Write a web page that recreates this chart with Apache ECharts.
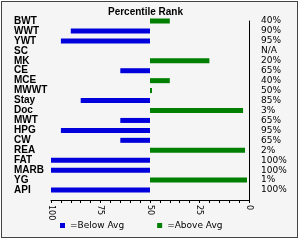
<!DOCTYPE html>
<html><head><meta charset="utf-8">
<script src="https://cdn.jsdelivr.net/npm/echarts@6/dist/echarts.min.js"></script>
<style>
html,body{margin:0;padding:0;background:#fff;}
#c{position:absolute;left:1px;top:1px;width:297px;height:237px;box-sizing:border-box;border:1px solid #444;background:#f5f5f5;}
</style></head>
<body><div id="c"></div>
<script>
const categories = ['BWT','WWT','YWT','SC','MK','CE','MCE','MWWT','Stay','Doc','MWT','HPG','CW','REA','FAT','MARB','YG','API'];
const rankValues = [40, 90, 95, null, 20, 65, 40, 49, 85, 3, 65, 95, 65, 2, 100, 100, 1, 100];
const rankLabels = ['40%','90%','95%','N/A','20%','65%','40%','50%','85%','3%','65%','95%','65%','2%','100%','100%','1%','100%'];
const xTicks = [0, 25, 50, 75, 100];
const avg = 50;

const baseData = rankValues.map(v => v == null ? null : (v > avg ? avg : v));
const belowData = rankValues.map(v => v == null ? null : (v > avg ? v - avg : null));
const aboveData = rankValues.map(v => v == null ? null : (v <= avg ? avg - v : null));

const chart = echarts.init(document.getElementById('c'));
chart.setOption({
  animation: false,
  backgroundColor: '#f5f5f5',
  title: {
    text: 'Percentile Rank', left: 101, top: 0,
    textStyle: {fontFamily: 'Liberation Sans', fontWeight: 'bold', fontSize: 10, color: '#000'}
  },
  legend: {
    data: ['=Below Avg', '=Above Avg'],
    left: 53, top: 214, itemWidth: 5, itemHeight: 5, itemGap: 33, icon: 'rect',
    textStyle: {fontFamily: 'DejaVu Sans', fontSize: 9, color: '#000'}
  },
  grid: {left: 49, right: 48, top: 19, bottom: 37, containLabel: false},
  xAxis: {
    type: 'value', inverse: true, min: 0, max: 100, interval: 5,
    splitLine: {show: false},
    axisLine: {show: true, lineStyle: {color: '#000', width: 1}},
    axisTick: {show: true, length: 3, lineStyle: {color: '#000'}},
    axisLabel: {
      rotate: -90, margin: 5, showMinLabel: true, showMaxLabel: true,
      fontFamily: 'DejaVu Sans', fontSize: 8, color: '#000',
      formatter: v => xTicks.includes(v) ? String(v) : ''
    }
  },
  yAxis: [{
    type: 'category', inverse: true, boundaryGap: false,
    data: categories.concat(['']),
    axisLine: {show: true, lineStyle: {color: '#000', width: 1}},
    axisTick: {show: false},
    axisLabel: {align: 'left', margin: 37, fontFamily: 'Liberation Sans', fontWeight: 'bold', fontSize: 10, color: '#000', interval: 0}
  }, {
    type: 'category', inverse: true, boundaryGap: false, position: 'right',
    data: rankLabels.concat(['']),
    axisLine: {show: false}, axisTick: {show: false},
    axisLabel: {align: 'left', margin: 12, fontFamily: 'DejaVu Sans', fontSize: 9, color: '#000', interval: 0}
  }],
  series: [
    {name: 'base', type: 'bar', stack: 's', data: baseData, barWidth: 5, clip: false,
     itemStyle: {color: 'rgba(0,0,0,0)'}, silent: true},
    {name: '=Below Avg', type: 'bar', stack: 's', data: belowData, barWidth: 5, clip: false,
     itemStyle: {color: '#0000dd'}},
    {name: '=Above Avg', type: 'bar', stack: 's', data: aboveData, barWidth: 5, clip: false,
     itemStyle: {color: '#007f00'}}
  ]
});
</script></body></html>
